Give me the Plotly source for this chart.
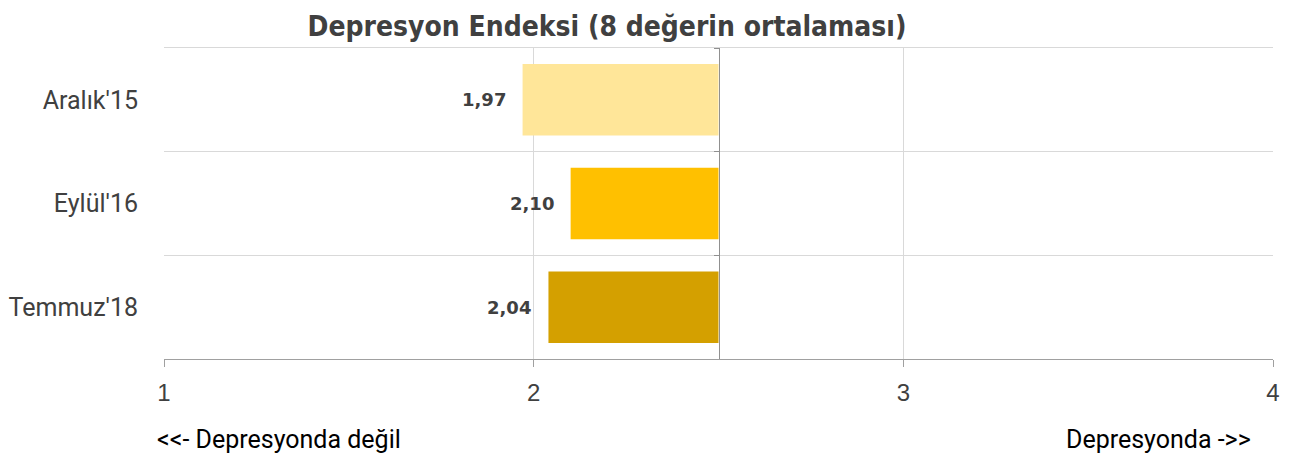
import plotly.graph_objects as go

categories = ["Aralık'15", "Eylül'16", "Temmuz'18"]
values = [1.97, 2.10, 2.04]
colors = ["#FFE699", "#FFC000", "#D4A000"]
base_value = 2.5
x_ticks = [1, 2, 3, 4]
title_text = "Depresyon Endeksi (8 değerin ortalaması)"
left_note = "<<- Depresyonda değil"
right_note = "Depresyonda ->>"

label_font = "Roboto, Liberation Sans, sans-serif"
title_font = "DejaVu Sans Condensed, DejaVu Sans, sans-serif"
value_font = "DejaVu Sans, sans-serif"

W, H = 1287, 451  # page body has an 8px margin

fig = go.Figure()
fig.add_trace(go.Bar(
    y=categories,
    x=[v - base_value for v in values],
    base=base_value,
    orientation="h",
    marker=dict(color=colors, line=dict(width=0)),
    hoverinfo="skip",
    showlegend=False,
))

# invisible helper trace so the overlay axes render
fig.add_trace(go.Bar(y=categories, x=[0, 0, 0], base=base_value, orientation="h",
                     xaxis="x2", yaxis="y2", marker=dict(opacity=0),
                     hoverinfo="skip", showlegend=False))

# value labels
for c, v in zip(categories, values):
    fig.add_annotation(
        x=v, y=c, xref="x", yref="y",
        text="<b>" + f"{v:.2f}".replace(".", ",") + "</b>",
        showarrow=False, xanchor="right", xshift=-15,
        font=dict(family=value_font, size=18, color="#404040"),
    )

# plot area: page x 164..1273, y 48..359
pw, ph = 1109, 311
fig.add_annotation(x=(155 - 164) / pw, y=-80 / ph, xref="paper", yref="paper",
                   text=left_note, showarrow=False, xanchor="left", yanchor="middle",
                   font=dict(family=label_font, size=25, color="#000000"))
fig.add_annotation(x=(1253 - 164) / pw, y=-80 / ph, xref="paper", yref="paper",
                   text=right_note, showarrow=False, xanchor="right", yanchor="middle",
                   font=dict(family=label_font, size=25, color="#000000"))

fig.update_layout(
    width=W, height=H,
    margin=dict(l=156, r=22, t=40, b=100, autoexpand=False),
    paper_bgcolor="white", plot_bgcolor="white",
    bargap=0.31,
    title=dict(text="<b>" + title_text + "</b>", x=(607 - 8) / W, xanchor="center",
               xref="container", y=1 - 18 / H, yanchor="middle",
               font=dict(family=title_font, size=28, color="#404040")),
    xaxis=dict(range=[1, 4], tickvals=x_ticks, ticktext=[str(t) for t in x_ticks],
               showgrid=True, gridcolor="#D9D9D9", gridwidth=1, zeroline=False,
               showline=True, linecolor="#A0A0A0", linewidth=1,
               ticks="outside", ticklen=7, tickcolor="#A0A0A0", ticklabelstandoff=5,
               automargin=False,
               tickfont=dict(family="Liberation Sans, Arial, sans-serif", size=24, color="#404040")),
    xaxis2=dict(overlaying="x", matches="x", side="top", anchor="y", showline=True,
                linecolor="#D9D9D9", linewidth=1, showgrid=False, zeroline=False,
                ticks="", showticklabels=False, automargin=False),
    yaxis=dict(type="category", categoryorder="array", categoryarray=categories,
               autorange="reversed", tickson="boundaries", showgrid=True,
               gridcolor="#D9D9D9", gridwidth=1, showline=False, ticks="",
               ticklabelstandoff=25, automargin=False,
               tickfont=dict(family=label_font, size=25, color="#404040")),
    yaxis2=dict(overlaying="y", matches="y", anchor="free", position=0.5, side="left",
                type="category", categoryarray=categories, autorange="reversed",
                tickson="boundaries", showgrid=False, showline=True, linecolor="#909090",
                linewidth=1, ticks="outside", ticklen=5, tickcolor="#909090",
                showticklabels=False, automargin=False),
)

fig.write_html("out.html")
